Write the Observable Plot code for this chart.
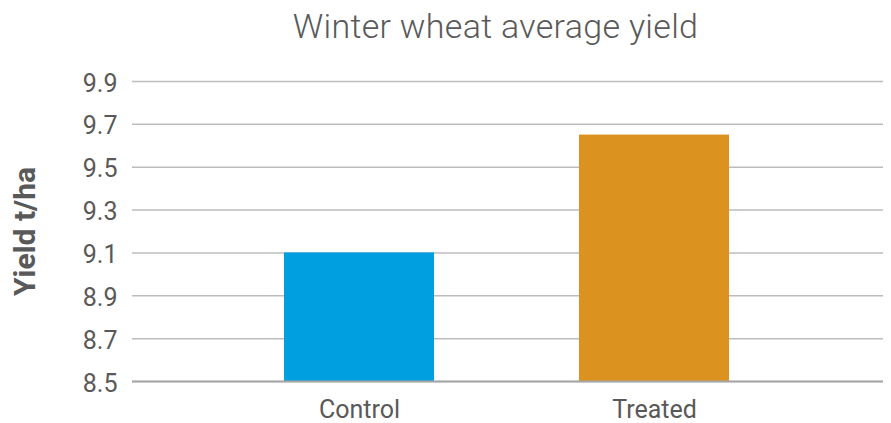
<!DOCTYPE html>
<html>
<head>
<meta charset="utf-8">
<script src="https://cdn.jsdelivr.net/npm/d3@7"></script>
<script src="https://cdn.jsdelivr.net/npm/@observablehq/plot@0.6"></script>
<style>
  body { margin: 0; background: #fff; width: 891px; overflow: hidden; }
  #title { height: 46px; padding-top: 6px; box-sizing: border-box; padding-left: 100px; text-align: center;
    font-family: Roboto, sans-serif; font-weight: 300; font-size: 34px; color: #595959; line-height: 40px; letter-spacing: 0.3px; white-space: nowrap; overflow: visible; }
</style>
</head>
<body>
<div id="title">Winter wheat average yield</div>
<div id="chart"></div>
<script>
const categories = ["Control", "Treated"];
const yields = [9.1, 9.65];
const yTicks = [8.5, 8.7, 8.9, 9.1, 9.3, 9.5, 9.7, 9.9];
const colors = ["#009FE0", "#DC921E"];

const data = categories.map((c, i) => ({category: c, value: yields[i], color: colors[i]}));

const chart = Plot.plot({
  width: 891,
  height: 377,
  marginTop: 35,
  marginBottom: 42,
  marginLeft: 132,
  marginRight: 8,
  style: {fontFamily: "Roboto, sans-serif", color: "#595959", background: "#fff", overflow: "visible"},
  x: {domain: categories, range: [283, 729], paddingInner: 0.4932, paddingOuter: 0},
  y: {domain: [8.5, 9.9], range: [335, 35]},
  marks: [
    Plot.gridY(yTicks, {stroke: "#bcbcbc", strokeOpacity: 1, strokeWidth: 1.5}),
    Plot.barY(data, {x: "category", y1: 8.5, y2: "value", fill: "color"}),
    Plot.ruleY([8.5], {stroke: "#a6a6a6", strokeWidth: 2}),
    Plot.axisY({ticks: yTicks, tickSize: 0, tickPadding: 15, tickFormat: d3.format(".1f"),
      fontSize: 25, fill: "#595959", label: null, dy: 2, style: {letterSpacing: "1px"}}),
    Plot.text(["Yield t/ha"], {frameAnchor: "left", textAnchor: "middle", dx: -107, rotate: -90,
      fontSize: 30, fontWeight: "bold", fill: "#595959", style: {letterSpacing: "1.5px"}}),
    Plot.axisX({tickSize: 0, tickPadding: 19, fontSize: 25, fill: "#595959", label: null, style: {letterSpacing: "0.7px"}})
  ]
});
document.getElementById("chart").appendChild(chart);
</script>
</body>
</html>
